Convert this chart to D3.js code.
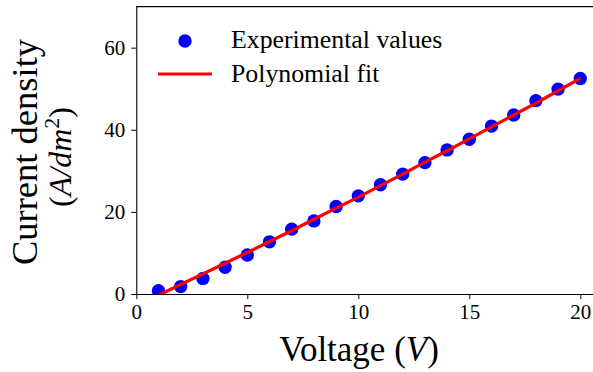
<!DOCTYPE html>
<html>
<head>
<meta charset="utf-8">
<script src="https://cdn.jsdelivr.net/npm/d3@7"></script>
<style>
  body { margin: 0; background: #fff; }
  svg { display: block; }
  text { font-family: "Liberation Serif", "DejaVu Serif", serif; fill: #000; }
</style>
</head>
<body>
<div id="chart"></div>
<script>
const voltage = [1, 2, 3, 4, 5, 6, 7, 8, 9, 10, 11, 12, 13, 14, 15, 16, 17, 18, 19, 20];
const measured = [0.8, 1.8, 3.8, 6.5, 9.5, 12.7, 15.8, 17.8, 21.3, 23.9, 26.6, 29.2, 32.0, 35.1, 37.7, 40.9, 43.6, 47.1, 49.9, 52.5];
const fitted = [-0.3, 2.3, 4.9, 7.5, 10.1, 12.8, 15.4, 18.2, 20.9, 23.6, 26.4, 29.2, 32.1, 34.9, 37.8, 40.7, 43.6, 46.5, 49.5, 52.5];
const xTicks = [0, 5, 10, 15, 20];
const yTicks = [0, 20, 40, 60];

const width = 593, height = 372;
const plotLeft = 136.3, plotTop = 6.6, plotBottom = 294;

const svg = d3.select('#chart').append('svg')
  .attr('width', width)
  .attr('height', height);

const x = d3.scaleLinear().domain([0, 21]).range([plotLeft, plotLeft + 21 * 22.2]);
const y = d3.scaleLinear().domain([0, 70]).range([plotBottom, plotTop]);

svg.append('clipPath').attr('id', 'plot-clip')
  .append('rect')
  .attr('x', plotLeft).attr('y', plotTop)
  .attr('width', x(21) - plotLeft).attr('height', plotBottom - plotTop);

const plot = svg.append('g').attr('clip-path', 'url(#plot-clip)');

// points first, fit line drawn over them
plot.append('g')
  .selectAll('circle')
  .data(voltage)
  .enter().append('circle')
  .attr('cx', d => x(d))
  .attr('cy', (d, i) => y(measured[i]))
  .attr('r', 6.7)
  .attr('fill', '#0000ff');

const line = d3.line()
  .x(d => x(d))
  .y((d, i) => y(fitted[i]));

plot.append('path')
  .datum(voltage)
  .attr('d', line)
  .attr('fill', 'none')
  .attr('stroke', '#ff0000')
  .attr('stroke-width', 3.2);

// axes
const xAxis = svg.append('g')
  .attr('transform', `translate(0,${plotBottom})`)
  .call(d3.axisBottom(x).tickValues(xTicks).tickSize(5).tickPadding(5).tickFormat(d3.format('d')));
const yAxis = svg.append('g')
  .attr('transform', `translate(${plotLeft},0)`)
  .call(d3.axisLeft(y).tickValues(yTicks).tickSize(5).tickPadding(6).tickFormat(d3.format('d')));

[xAxis, yAxis].forEach(ax => {
  ax.select('.domain').attr('stroke', '#000').attr('stroke-width', 1.1);
  ax.selectAll('.tick line').attr('stroke', '#000').attr('stroke-width', 1);
  ax.selectAll('.tick text')
    .style('font-family', '"Liberation Serif", serif')
    .style('font-size', '21px')
    .attr('fill', '#000');
});
xAxis.select('.domain').attr('d', `M${plotLeft},0.5H${width}`);
yAxis.select('.domain').attr('d', `M0.5,${plotBottom}V${plotTop}`);

// top spine
svg.append('line')
  .attr('x1', plotLeft).attr('x2', width)
  .attr('y1', plotTop).attr('y2', plotTop)
  .attr('stroke', '#000').attr('stroke-width', 1.1);

// axis labels
const xl = svg.append('text')
  .attr('x', 359).attr('y', 361)
  .attr('text-anchor', 'middle')
  .style('font-size', '35px');
xl.append('tspan').text('Voltage (');
xl.append('tspan').style('font-style', 'italic').text('V');
xl.append('tspan').text(')');

const yl = svg.append('g').attr('transform', 'translate(0,152) rotate(-90)');
yl.append('text')
  .attr('x', 0).attr('y', 37)
  .attr('text-anchor', 'middle')
  .style('font-size', '36.5px')
  .text('Current density');
const yl2 = yl.append('text')
  .attr('x', -5).attr('y', 71)
  .attr('text-anchor', 'middle')
  .style('font-size', '32px');
yl2.append('tspan').text('(');
yl2.append('tspan').style('font-style', 'italic').text('A/dm');
yl2.append('tspan').attr('dy', -12).style('font-size', '22px').text('2');
yl2.append('tspan').attr('dy', 12).text(')');

// legend
const legend = svg.append('g');
legend.append('circle')
  .attr('cx', 185).attr('cy', 41).attr('r', 6.7)
  .attr('fill', '#0000ff');
legend.append('line')
  .attr('x1', 158).attr('x2', 212)
  .attr('y1', 74).attr('y2', 74)
  .attr('stroke', '#ff0000').attr('stroke-width', 3.2);
legend.append('text')
  .attr('x', 231).attr('y', 48)
  .style('font-size', '25.8px')
  .text('Experimental values');
legend.append('text')
  .attr('x', 231).attr('y', 82)
  .style('font-size', '25.8px')
  .text('Polynomial fit');
</script>
</body>
</html>
